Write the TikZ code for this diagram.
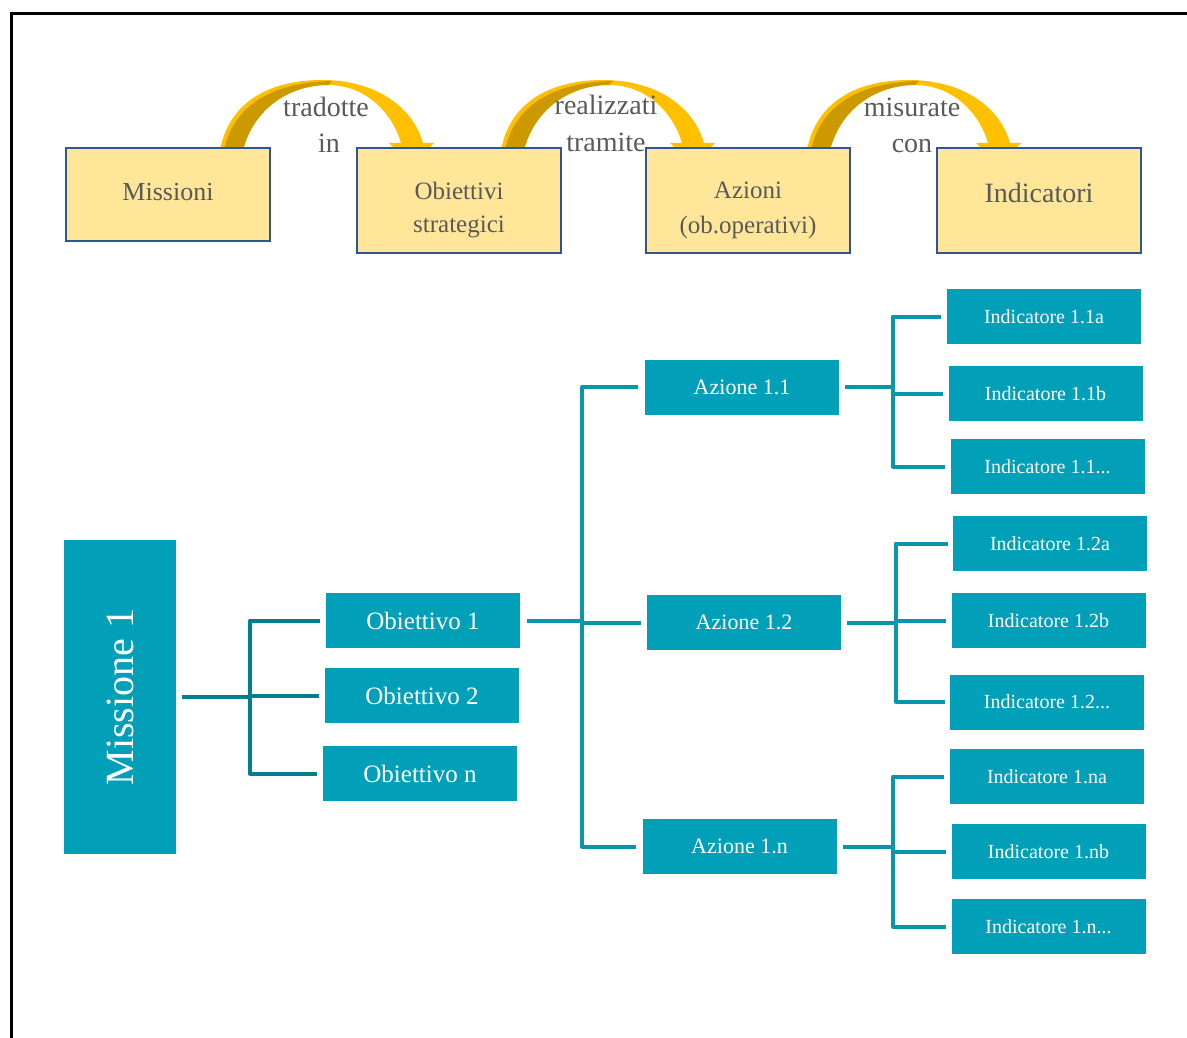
\documentclass[tikz,border=0pt]{standalone}
\usepackage{fontspec}
\setmainfont{Liberation Serif}
\usetikzlibrary{calc}
\definecolor{yfill}{HTML}{FFE699}
\definecolor{yborder}{HTML}{2F5597}
\definecolor{greytxt}{HTML}{595959}
\definecolor{goldL}{HTML}{FFC000}
\definecolor{goldD}{HTML}{CC9900}
\definecolor{tealbox}{HTML}{02A0B8}
\definecolor{tealL}{HTML}{00808F}
\definecolor{tealR}{HTML}{0896AA}
\tikzset{
  ybox/.style={draw=yborder, line width=2.2pt, fill=yfill, text=greytxt,
    minimum width=204pt, minimum height=105pt, inner sep=0pt, align=center,
    font=\fontsize{25}{33}\selectfont},
  tbox/.style={fill=tealbox, text=white, minimum width=194pt, minimum height=55pt, inner sep=0pt},
  obox/.style={tbox, font=\fontsize{25}{30}\selectfont},
  abox/.style={tbox, font=\fontsize{22}{26}\selectfont},
  ibox/.style={tbox, font=\fontsize{20}{24}\selectfont},
  lbl/.style={text=greytxt, inner sep=0pt, anchor=base, font=\fontsize{28}{34}\selectfont},
  connL/.style={draw=tealL, line width=4pt, line join=round},
  connR/.style={draw=tealR, line width=4pt, line join=round},
}
\begin{document}
\begin{tikzpicture}[x=1pt,y=-1pt]
\useasboundingbox (0,0) rectangle (1187,1038);
% frame
\draw[line width=3pt] (11,1040) -- (11,14) -- (1190,14);

% curved arrows
\foreach \dx in {0,281,587}{
  \begin{scope}[xshift=\dx pt]
    \fill[goldL] (220,150) .. controls (230,98) and (275,80) .. (322,80)
      .. controls (372,80) and (412,104) .. (423,143) -- (434,143) -- (412,166) -- (389,143) -- (401,143)
      .. controls (392,112) and (365,85) .. (328,85)
      .. controls (290,85) and (254,108) .. (243,150) -- cycle;
    \fill[goldD] (224,150) .. controls (235,100) and (280,82) .. (332,81) -- (328,85)
      .. controls (290,85) and (254,108) .. (243,150) -- cycle;
  \end{scope}
}

% top boxes
\node[ybox, minimum height=93pt, font=\fontsize{26}{34}\selectfont] (mis) at (168,194.5) {\raisebox{2pt}[\height][\depth]{Missioni}};
\node[ybox] (obs) at (459,200.5) {\raisebox{-9pt}[\height][\depth]{\begin{tabular}{@{}c@{}}Obiettivi\\strategici\end{tabular}}};
\node[ybox, font=\fontsize{25}{35}\selectfont] (azi) at (748,200.5) {\raisebox{-9pt}[\height][\depth]{\begin{tabular}{@{}c@{}}Azioni\\(ob.operativi)\end{tabular}}};
\node[ybox, font=\fontsize{28}{34}\selectfont] (ind) at (1039,200.5) {\raisebox{8pt}[\height][\depth]{Indicatori}};

% arrow labels
\node[lbl] (l1a) at (326,117) {tradotte};
\node[lbl] (l1b) at (329,153) {in};
\node[lbl] (l2a) at (606,115) {realizzati};
\node[lbl] (l2b) at (606,152) {tramite};
\node[lbl] (l3a) at (912,117) {misurate};
\node[lbl] (l3b) at (912,153) {con};

% hierarchy
\node[tbox, minimum width=112pt, minimum height=314pt, font=\fontsize{40}{44}\selectfont] (m1) at (120,697) {\rotatebox{90}{Missione 1}};

\node[obox] (o1) at (423,620.5) {Obiettivo 1};
\node[obox] (o2) at (422,695.5) {Obiettivo 2};
\node[obox] (on) at (420,773.5) {Obiettivo n};

\node[abox] (a11) at (742,387) {Azione 1.1};
\node[abox] (a12) at (744,622.5) {Azione 1.2};
\node[abox] (a1n) at (739.5,846.5) {Azione 1.n};

\node[ibox] (i11a) at (1044,316.5) {Indicatore 1.1a};
\node[ibox] (i11b) at (1045.5,393.5) {Indicatore 1.1b};
\node[ibox] (i11c) at (1047.5,466.5) {Indicatore 1.1...};
\node[ibox] (i12a) at (1050,543.5) {Indicatore 1.2a};
\node[ibox] (i12b) at (1048.5,620.5) {Indicatore 1.2b};
\node[ibox] (i12c) at (1047,702) {Indicatore 1.2...};
\node[ibox] (i1na) at (1047,776.5) {Indicatore 1.na};
\node[ibox] (i1nb) at (1048.5,851.5) {Indicatore 1.nb};
\node[ibox] (i1nc) at (1048.5,926.5) {Indicatore 1.n...};

% junctions
\coordinate (j1) at (250,697);
\coordinate (j2) at (582,620.5);
\coordinate (j3) at (893,387);
\coordinate (j4) at (896,622.5);
\coordinate (j5) at (893,846.5);

% Missione -> Obiettivi
\draw[connL] ([xshift=6pt]m1.east) -- (j1);
\draw[connL] ([xshift=-6pt]o1.west) -| (j1) |- ([xshift=-6pt]on.west);
\draw[connL] (j1 |- o2.west) -- ([xshift=-6pt]o2.west);

% Obiettivo 1 -> Azioni
\draw[connR] ([xshift=7pt]o1.east) -- (j2);
\draw[connR] ([xshift=-7pt]a11.west) -| (j2) |- ([xshift=-6pt]a1n.west);
\draw[connR] (j2 |- a12.west) -- ([xshift=-6pt]a12.west);

% Azione 1.1 -> Indicatori
\draw[connR] ([xshift=6pt]a11.east) -- (j3);
\draw[connR] ([xshift=-6pt]i11a.west) -| (j3) |- ([xshift=-5pt]i11c.west);
\draw[connR] (j3 |- i11b.west) -- ([xshift=-5pt]i11b.west);

% Azione 1.2 -> Indicatori
\draw[connR] ([xshift=6pt]a12.east) -- (j4);
\draw[connR] ([xshift=-5pt]i12a.west) -| (j4) |- ([xshift=-5pt]i12c.west);
\draw[connR] (j4 |- i12b.west) -- ([xshift=-5pt]i12b.west);

% Azione 1.n -> Indicatori
\draw[connR] ([xshift=6pt]a1n.east) -- (j5);
\draw[connR] ([xshift=-6pt]i1na.west) -| (j5) |- ([xshift=-5pt]i1nc.west);
\draw[connR] (j5 |- i1nb.west) -- ([xshift=-5pt]i1nb.west);
\end{tikzpicture}
\end{document}
